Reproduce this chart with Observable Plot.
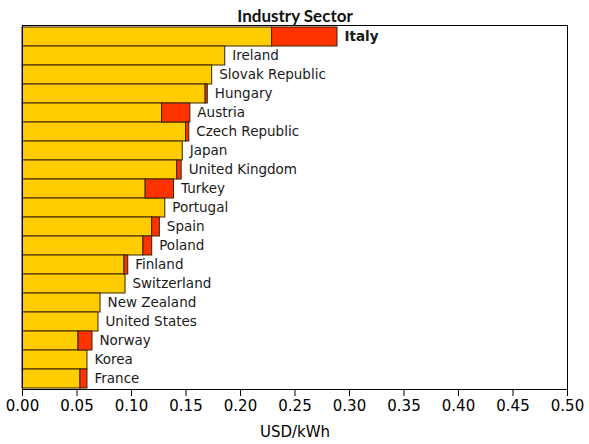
<!DOCTYPE html>
<html>
<head>
<meta charset="utf-8">
<script src="https://cdn.jsdelivr.net/npm/d3@7"></script>
<script src="https://cdn.jsdelivr.net/npm/@observablehq/plot@0.6"></script>
<style>
  html, body { margin: 0; padding: 0; background: #fff; }
</style>
</head>
<body>
<div id="chart"></div>
<script>
const countries = ["Italy","Ireland","Slovak Republic","Hungary","Austria","Czech Republic","Japan","United Kingdom","Turkey","Portugal","Spain","Poland","Finland","Switzerland","New Zealand","United States","Norway","Korea","France"];
const priceExTax = [0.229,0.186,0.174,0.168,0.128,0.150,0.147,0.142,0.113,0.131,0.119,0.111,0.0936,0.0945,0.0716,0.0697,0.0514,0.0596,0.0532];
const taxes      = [0.060,0.000,0.000,0.002,0.026,0.003,0.000,0.004,0.026,0.000,0.007,0.008,0.0034,0.000,0.000,0.000,0.0128,0.000,0.0064];
const xTicks = [0,0.05,0.10,0.15,0.20,0.25,0.30,0.35,0.40,0.45,0.50];
const highlighted = ["Italy"];

const rows = countries.map((c,i) => ({country: c, base: priceExTax[i], tax: taxes[i], total: priceExTax[i] + taxes[i]}));
const font = "DejaVu Sans";

const chart = Plot.plot({
  width: 589,
  height: 444,
  marginLeft: 22,
  marginRight: 22,
  marginTop: 25,
  marginBottom: 55,
  style: {fontFamily: font, fontSize: "13px", background: "#fff", color: "#000"},
  x: {domain: [0, 0.5]},
  y: {domain: countries, axis: null, padding: 0},
  marks: [
    Plot.barX(rows, {y: "country", x1: 0, x2: "base", fill: "#FFCC00", stroke: "#3a2200", strokeWidth: 1, inset: 0}),
    Plot.barX(rows.filter(d => d.tax > 0), {y: "country", x1: "base", x2: "total", fill: "#FF3300", stroke: "#3a2200", strokeWidth: 1, inset: 0}),
    Plot.text(rows.filter(d => !highlighted.includes(d.country)), {y: "country", x: "total", text: "country", textAnchor: "start", dx: 7, fontSize: 13.5, fill: "#1a1a1a"}),
    Plot.text(rows.filter(d => highlighted.includes(d.country)), {y: "country", x: "total", text: "country", textAnchor: "start", dx: 7, fontSize: 13.5, fontWeight: "bold", fill: "#1a1a1a"}),
    Plot.frame({stroke: "#000", strokeWidth: 1}),
    Plot.text(["Industry Sector"], {frameAnchor: "top", dy: -16, fontSize: 17, fontFamily: "Lato", fontWeight: "bold", fill: "#111"}),
    Plot.axisX({ticks: xTicks, tickFormat: d3.format(".2f"), tickSize: 7, tickPadding: 4, fontSize: 15, label: "USD/kWh", labelAnchor: "center", labelArrow: "none", labelOffset: 47})
  ]
});
document.getElementById("chart").appendChild(chart);
chart.querySelectorAll("g[aria-label='x-axis label'] text").forEach(t => t.setAttribute("font-size", "15"));
</script>
</body>
</html>
